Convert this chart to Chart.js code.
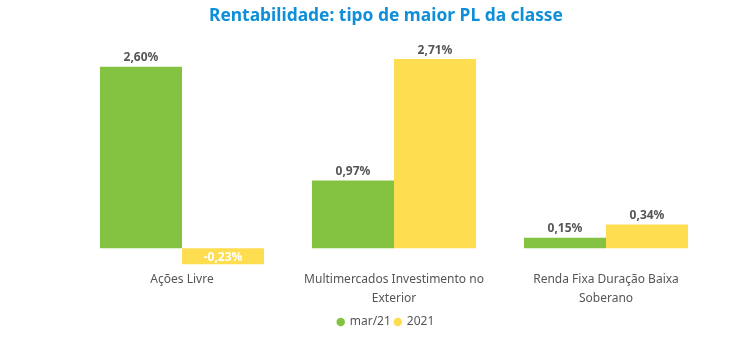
<!DOCTYPE html>
<html><head><meta charset="utf-8">
<script src="https://cdn.jsdelivr.net/npm/chart.js@4/dist/chart.umd.min.js"></script>
<style>html,body{margin:0;padding:0;background:#fff}#wrap{width:750px;height:355px}</style>
</head><body><div id="wrap"><canvas id="c"></canvas></div>
<script>
const categories = [['Ações Livre'], ['Multimercados Investimento no', 'Exterior'], ['Renda Fixa Duração Baixa', 'Soberano']];
const seriesNames = ['mar/21', '2021'];
const marValues = [2.60, 0.97, 0.15];
const anoValues = [-0.23, 2.71, 0.34];

const FONT = "'Noto Sans', 'Open Sans', sans-serif";
const fmt = v => v.toFixed(2).replace('.', ',') + '%';

const labelPlugin = {
  id: 'valueLabels',
  afterDatasetsDraw(chart) {
    const ctx = chart.ctx;
    ctx.save();
    ctx.font = "bold 12px " + FONT;
    ctx.textAlign = 'center';
    chart.data.datasets.forEach((ds, di) => {
      const meta = chart.getDatasetMeta(di);
      meta.data.forEach((bar, i) => {
        const v = ds.data[i];
        if (v >= 0) {
          ctx.fillStyle = '#555555';
          ctx.textBaseline = 'bottom';
          ctx.fillText(fmt(v), bar.x, bar.y - 3);
        } else {
          ctx.fillStyle = '#ffffff';
          ctx.textBaseline = 'middle';
          ctx.fillText(fmt(v), bar.x, (bar.y + bar.base) / 2 + 1);
        }
      });
    });
    ctx.restore();
  }
};

new Chart(document.getElementById('c'), {
  type: 'bar',
  data: {
    labels: categories,
    datasets: [
      { label: seriesNames[0], data: marValues, backgroundColor: '#84C341', categoryPercentage: 0.774, barPercentage: 1.0 },
      { label: seriesNames[1], data: anoValues, backgroundColor: '#FFDD50', categoryPercentage: 0.774, barPercentage: 1.0 }
    ]
  },
  options: {
    responsive: true,
    maintainAspectRatio: false,
    animation: false,
    layout: { padding: { left: 60, right: 38, top: 6, bottom: 17 } },
    plugins: {
      title: {
        display: true,
        text: 'Rentabilidade: tipo de maior PL da classe',
        color: '#0E8FD8',
        font: { family: FONT, size: 17.4, weight: 'bold' },
        padding: { top: 0, bottom: 12 }
      },
      legend: {
        position: 'bottom',
        labels: {
          usePointStyle: true,
          pointStyle: 'circle',
          boxWidth: 6, boxHeight: 6,
          padding: 4,
          color: '#555555',
          font: { family: FONT, size: 12 }
        }
      },
      tooltip: { enabled: false }
    },
    scales: {
      x: {
        grid: { display: false, drawTicks: false },
        border: { display: false },
        ticks: { color: '#555555', font: { family: FONT, size: 12, lineHeight: 1.6 }, padding: 4, maxRotation: 0 }
      },
      y: {
        display: true,
        min: -0.25,
        max: 3.0,
        grid: { display: false, drawTicks: false },
        border: { display: false },
        ticks: { display: false },
        afterFit(scale) { scale.width = 16; }
      }
    }
  },
  plugins: [labelPlugin]
});
</script></body></html>
